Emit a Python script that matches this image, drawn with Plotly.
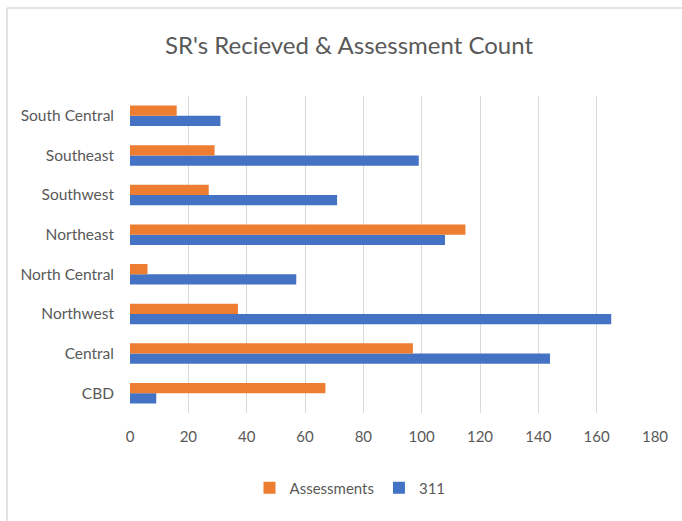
import plotly.graph_objects as go

# Regions listed bottom-to-top on the category axis
regions = ["CBD", "Central", "Northwest", "North Central",
           "Northeast", "Southwest", "Southeast", "South Central"]
assessments = [67, 97, 37, 6, 115, 27, 29, 16]
sr_311 = [9, 144, 165, 57, 108, 71, 99, 31]
x_ticks = [0, 20, 40, 60, 80, 100, 120, 140, 160, 180]

ORANGE = "#ED7D31"
BLUE = "#4472C4"
TEXT = "#595959"
FONT = "Lato"

W, H = 682, 521
L, R, T, B = 130, 27, 96, 108

fig = go.Figure()
fig.add_trace(go.Bar(
    y=regions, x=sr_311, name="311", orientation="h",
    marker=dict(color=BLUE, line=dict(width=0)), legendrank=2,
))
fig.add_trace(go.Bar(
    y=regions, x=assessments, name="Assessments", orientation="h",
    marker=dict(color=ORANGE, line=dict(width=0)), legendrank=1,
))

# thin frame along the top and left edges of the chart
pw, ph = W - L - R, H - T - B
def px_x(p):
    return (p - L) / pw
def px_y(p):
    return 1 - (p - T) / ph

fig.add_shape(type="line", xref="paper", yref="paper",
              x0=px_x(7), x1=px_x(682), y0=px_y(8), y1=px_y(8),
              line=dict(color="#D9D9D9", width=1.5))
fig.add_shape(type="line", xref="paper", yref="paper",
              x0=px_x(7), x1=px_x(7), y0=px_y(8), y1=px_y(521),
              line=dict(color="#D9D9D9", width=1.5))

fig.update_layout(
    width=W, height=H,
    margin=dict(l=L, r=R, t=T, b=B, autoexpand=False),
    paper_bgcolor="white", plot_bgcolor="white",
    barmode="group", bargap=0.48, bargroupgap=0,
    font=dict(family=FONT, color=TEXT, size=15),
    title=dict(text="SR's Recieved & Assessment Count",
               x=349 / W, xref="container", xanchor="center",
               y=1 - 46 / H, yanchor="middle",
               font=dict(family=FONT, size=24, color=TEXT)),
    xaxis=dict(range=[0, 180], tickvals=x_ticks, showgrid=True,
               gridcolor="#D9D9D9", gridwidth=1, zeroline=False,
               showline=False, ticks="", ticklabelstandoff=13,
               tickfont=dict(size=15, color=TEXT)),
    yaxis=dict(type="category", showgrid=False, zeroline=False,
               showline=False, ticks="", ticklabelstandoff=15,
               tickfont=dict(size=15.5, color=TEXT)),
    legend=dict(orientation="h", x=px_x(350), xref="paper",
                xanchor="center",
                y=px_y(488), yanchor="middle",
                font=dict(size=15, color=TEXT),
                itemwidth=30, traceorder="normal"),
    showlegend=True,
)

fig.write_html("out.html")
